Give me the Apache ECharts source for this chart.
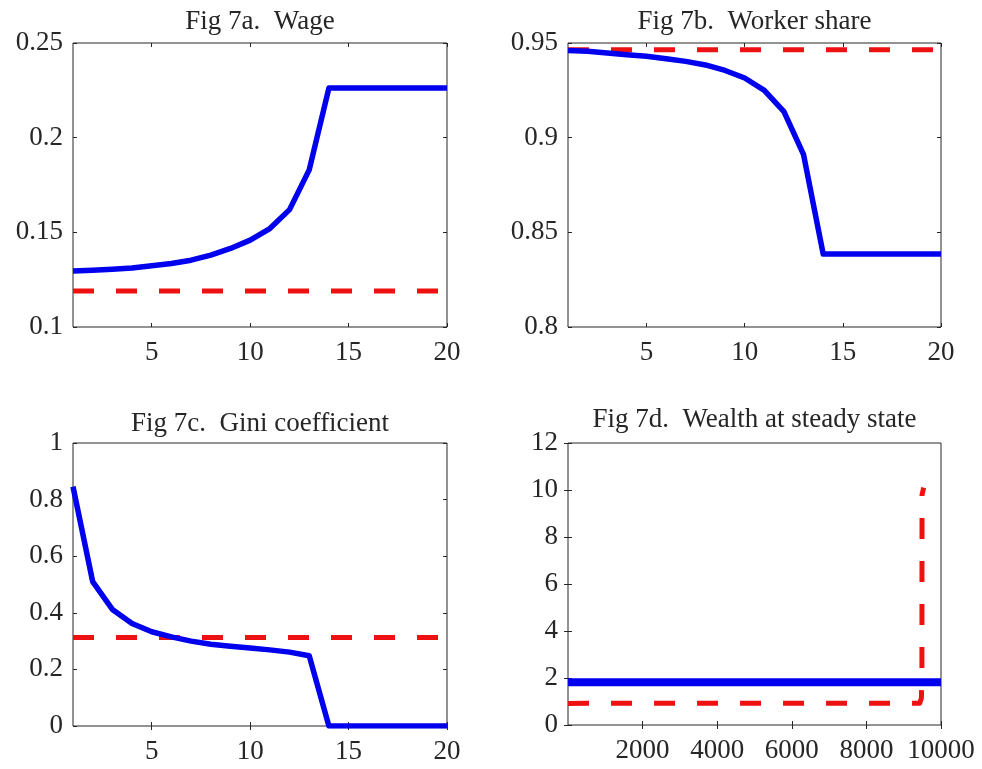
<!DOCTYPE html>
<html>
<head>
<meta charset="utf-8">
<script src="https://cdn.jsdelivr.net/npm/echarts@6/dist/echarts.min.js"></script>
<style>
html, body { margin: 0; padding: 0; background: #fff; }
#main { width: 982px; height: 769px; }
</style>
</head>
<body>
<div id="main"></div>
<script>
var myChart = echarts.init(document.getElementById('main'));

// periods on the x axis of panels a-c
const periods = [1, 2, 3, 4, 5, 6, 7, 8, 9, 10, 11, 12, 13, 14, 15, 16, 17, 18, 19, 20];

// Fig 7a - wage
const wageModel = [0.1296, 0.1300, 0.1305, 0.1312, 0.1323, 0.1335, 0.1353, 0.1380, 0.1415, 0.1459,
    0.1520, 0.1620, 0.1830, 0.2262, 0.2262, 0.2262, 0.2262, 0.2262, 0.2262, 0.2262];
const wageBench = 0.119;

// Fig 7b - worker share
const shareModel = [0.9461, 0.9456, 0.9447, 0.9438, 0.9430, 0.9417, 0.9403, 0.9384, 0.9355, 0.9315,
    0.9250, 0.9138, 0.8910, 0.8385, 0.8385, 0.8385, 0.8385, 0.8385, 0.8385, 0.8385];
const shareBench = 0.9465;

// Fig 7c - gini
const giniModel = [0.846, 0.510, 0.412, 0.3625, 0.333, 0.315, 0.300, 0.289, 0.282, 0.276,
    0.269, 0.261, 0.248, 0, 0, 0, 0, 0, 0, 0];
const giniBench = 0.313;

// Fig 7d - wealth at steady state (agents sorted)
const agentsModel = [1, 10000];
const wealthModel = [1.82, 1.82];
const agentsBench = [1, 9430, 9475, 9488, 9492, 9535];
const wealthBench = [0.92, 0.93, 1.15, 2.2, 9.8, 10.1];

// tick labels
const wageTicks = [0.1, 0.15, 0.2, 0.25];
const shareTicks = [0.8, 0.85, 0.9, 0.95];
const giniTicks = [0, 0.2, 0.4, 0.6, 0.8, 1];
const wealthTicks = [0, 2, 4, 6, 8, 10, 12];
const periodTicks = [5, 10, 15, 20];
const agentTicks = [2000, 4000, 6000, 8000, 10000];

const FONT = 'Liberation Serif';
const FS = 27;
const INK = '#262626';
const BLUE = '#0000ee';
const RED = '#ee1111';

const panels = [
    {title: 'Fig 7a.  Wage', left: 73, top: 43, width: 374, height: 284, titleTop: 8,
        xmin: 1, xmax: 20, xticks: periodTicks, ymin: 0.1, ymax: 0.25, yticks: wageTicks,
        model: periods.map((p, i) => [p, wageModel[i]]),
        bench: periods.map(p => [p, wageBench])},
    {title: 'Fig 7b.  Worker share', left: 568, top: 43, width: 373, height: 284, titleTop: 8,
        xmin: 1, xmax: 20, xticks: periodTicks, ymin: 0.8, ymax: 0.95, yticks: shareTicks,
        model: periods.map((p, i) => [p, shareModel[i]]),
        bench: periods.map(p => [p, shareBench])},
    {title: 'Fig 7c.  Gini coefficient', left: 73, top: 443, width: 374, height: 283, titleTop: 410,
        xmin: 1, xmax: 20, xticks: periodTicks, ymin: 0, ymax: 1, yticks: giniTicks,
        model: periods.map((p, i) => [p, giniModel[i]]),
        bench: periods.map(p => [p, giniBench])},
    {title: 'Fig 7d.  Wealth at steady state', left: 568, top: 443, width: 373, height: 282, titleTop: 406,
        xmin: 0, xmax: 10000, xticks: agentTicks, ymin: 0, ymax: 12, yticks: wealthTicks,
        model: agentsModel.map((a, i) => [a, wealthModel[i]]),
        bench: agentsBench.map((a, i) => [a, wealthBench[i]]),
        modelWidth: 8}
];

const labelStyle = {fontFamily: FONT, fontSize: FS, color: INK, formatter: v => String(v)};

let grids = [], xAxes = [], yAxes = [], series = [], graphics = [];

panels.forEach(function (p, i) {
    grids.push({left: p.left, top: p.top, width: p.width, height: p.height,
        show: true, borderColor: INK, borderWidth: 1, backgroundColor: '#fff'});
    ['bottom', 'top'].forEach(function (pos) {
        xAxes.push({
            type: 'value', gridIndex: i, position: pos, min: p.xmin, max: p.xmax,
            axisLine: {show: false}, splitLine: {show: false},
            axisTick: {show: true, inside: true, length: 4, customValues: p.xticks,
                lineStyle: {color: INK, width: 1}},
            axisLabel: {show: pos === 'bottom', customValues: p.xticks, margin: 12,
                showMinLabel: true, showMaxLabel: true, ...labelStyle}
        });
    });
    ['left', 'right'].forEach(function (pos) {
        yAxes.push({
            type: 'value', gridIndex: i, position: pos, min: p.ymin, max: p.ymax,
            axisLine: {show: false}, splitLine: {show: false},
            axisTick: {show: true, inside: true, length: 4, customValues: p.yticks,
                lineStyle: {color: INK, width: 1}},
            axisLabel: {show: pos === 'left', customValues: p.yticks, margin: 10,
                showMinLabel: true, showMaxLabel: true, ...labelStyle}
        });
    });
    series.push({
        type: 'line', xAxisIndex: 2 * i, yAxisIndex: 2 * i, data: p.bench,
        showSymbol: false, silent: true, z: 3,
        lineStyle: {color: RED, width: 5, type: [21, 22], cap: 'butt', join: 'round'}
    });
    series.push({
        type: 'line', xAxisIndex: 2 * i, yAxisIndex: 2 * i, data: p.model,
        showSymbol: false, silent: true, z: 4,
        lineStyle: {color: BLUE, width: p.modelWidth || 5.5, join: 'round'}
    });
    graphics.push({
        type: 'text', x: p.left + p.width / 2, y: p.titleTop,
        style: {text: p.title, fontFamily: FONT, fontSize: FS, fill: INK,
            align: 'center', verticalAlign: 'top'}
    });
});

let option = {
    backgroundColor: '#fff',
    animation: false,
    grid: grids,
    xAxis: xAxes,
    yAxis: yAxes,
    series: series,
    graphic: graphics
};

myChart.setOption(option);
</script>
</body>
</html>
